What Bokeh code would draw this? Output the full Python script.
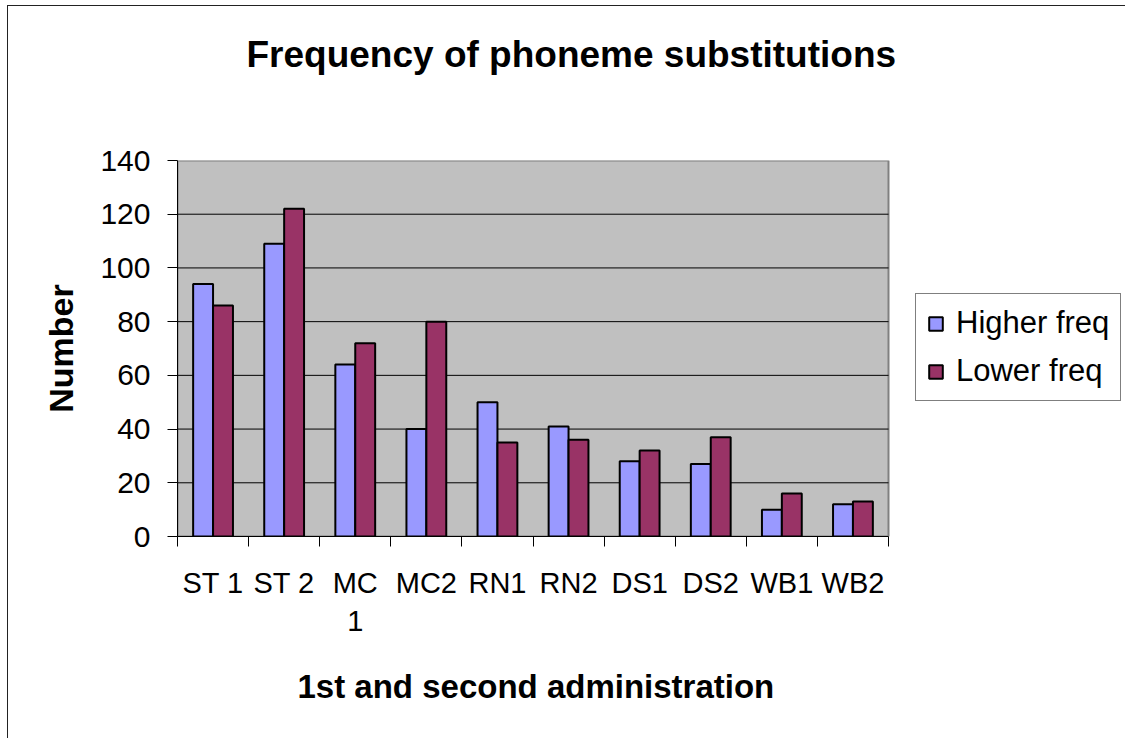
from bokeh.plotting import figure
from bokeh.models import Range1d, FixedTicker, Legend, LegendItem, ColumnDataSource, Title
from bokeh.embed import file_html
from bokeh.resources import INLINE

categories = ["ST 1", "ST 2", "MC\n1", "MC2", "RN1", "RN2", "DS1", "DS2", "WB1", "WB2"]
higher = [94, 109, 64, 40, 50, 41, 28, 27, 10, 12]
lower = [86, 122, 72, 80, 35, 36, 32, 37, 16, 13]
y_ticks = [0, 20, 40, 60, 80, 100, 120, 140]

FONT = "Liberation Sans"
n = len(categories)
centers = [i + 0.5 for i in range(n)]
bw = 0.28

# layout: plot area is 711px wide; the frame extends right to hold the legend
W, H = 1118, 733
B_LEFT, B_RIGHT, B_TOP, B_BOTTOM = 169, 4, 154, 203
PLOT_PX = 711
FRAME_PX = W - B_LEFT - B_RIGHT
x_end = n * FRAME_PX / PLOT_PX
y_max = y_ticks[-1]

src = ColumnDataSource(dict(
    xh=[c - bw / 2 for c in centers],
    xl=[c + bw / 2 for c in centers],
    higher=higher, lower=lower,
))

p = figure(width=W, height=H, output_backend="svg", toolbar_location=None,
           x_range=Range1d(0, x_end), y_range=Range1d(0, y_max),
           min_border_left=B_LEFT, min_border_right=B_RIGHT,
           min_border_top=B_TOP, min_border_bottom=B_BOTTOM,
           background_fill_color="white", border_fill_color="white")
p.styles = {"margin-left": "7px", "margin-top": "5px",
            "border-left": "1px solid #222", "border-top": "1px solid #222"}
p.outline_line_color = None
p.xgrid.grid_line_color = None
p.ygrid.grid_line_color = None

# plot area background and gridlines
p.quad(left=[0], right=[n], bottom=[0], top=[y_max], fill_color="#C0C0C0",
       line_color="#808080", line_width=2, level="underlay")
grid_y = y_ticks[1:-1]
p.segment(x0=[0] * len(grid_y), x1=[n] * len(grid_y), y0=grid_y, y1=grid_y,
          line_color="black", line_width=1, level="underlay")

rh = p.vbar(x="xh", top="higher", width=bw, source=src, fill_color="#9999FF",
            line_color="black", line_width=2)
rl = p.vbar(x="xl", top="lower", width=bw, source=src, fill_color="#993366",
            line_color="black", line_width=2)

# x axis
xa = p.xaxis[0]
xa.bounds = (0, n)
xa.ticker = FixedTicker(ticks=centers, minor_ticks=list(range(n + 1)))
xa.major_label_overrides = {c: lab for c, lab in zip(centers, categories)}
xa.major_tick_line_color = None
xa.minor_tick_line_color = "black"
xa.minor_tick_in = 0
xa.minor_tick_out = 10
xa.axis_line_color = "black"
xa.axis_line_width = 1
xa.major_label_text_font = FONT
xa.major_label_text_font_size = "29px"
xa.major_label_text_color = "black"
xa.major_label_standoff = 20

# y axis
ya = p.yaxis[0]
ya.ticker = FixedTicker(ticks=y_ticks, minor_ticks=[])
ya.major_tick_in = 0
ya.major_tick_out = 10
ya.major_tick_line_color = "black"
ya.axis_line_color = "black"
ya.major_label_text_font = FONT
ya.major_label_text_font_size = "30px"
ya.major_label_text_color = "black"
ya.major_label_standoff = 17
ya.axis_label = "Number"
ya.axis_label_text_font = FONT
ya.axis_label_text_font_style = "bold"
ya.axis_label_text_font_size = "34px"
ya.axis_label_text_color = "black"
ya.axis_label_standoff = 17

# x axis title (below the tick labels), aligned over the plot area
xtitle = Title(text="1st and second administration", align="left", offset=120,
               text_font=FONT, text_font_style="bold", text_font_size="33px",
               text_color="black", standoff=52)
p.add_layout(xtitle, "below")

# blank spacer above the frame, then the chart title
spacer = Title(text=" ", text_font=FONT, text_font_size="10px", standoff=68)
p.add_layout(spacer, "above")
title = Title(text="Frequency of phoneme substitutions", align="left", offset=69,
              text_font=FONT, text_font_style="bold", text_font_size="37px",
              text_color="black", standoff=10)
p.add_layout(title, "above")

legend = Legend(items=[LegendItem(label="Higher freq", renderers=[rh]),
                       LegendItem(label="Lower freq", renderers=[rl])],
                location=(738, 135), orientation="vertical")
legend.label_text_font = FONT
legend.label_text_font_size = "31px"
legend.label_text_color = "black"
legend.label_height = 36
legend.glyph_width = 17
legend.glyph_height = 17
legend.label_standoff = 12
legend.spacing = 12
legend.padding = 11
legend.margin = 0
legend.border_line_color = "black"
legend.border_line_width = 1
legend.background_fill_color = "white"
legend.background_fill_alpha = 1
p.add_layout(legend, "center")

open("out.html", "w").write(file_html(p, INLINE))
